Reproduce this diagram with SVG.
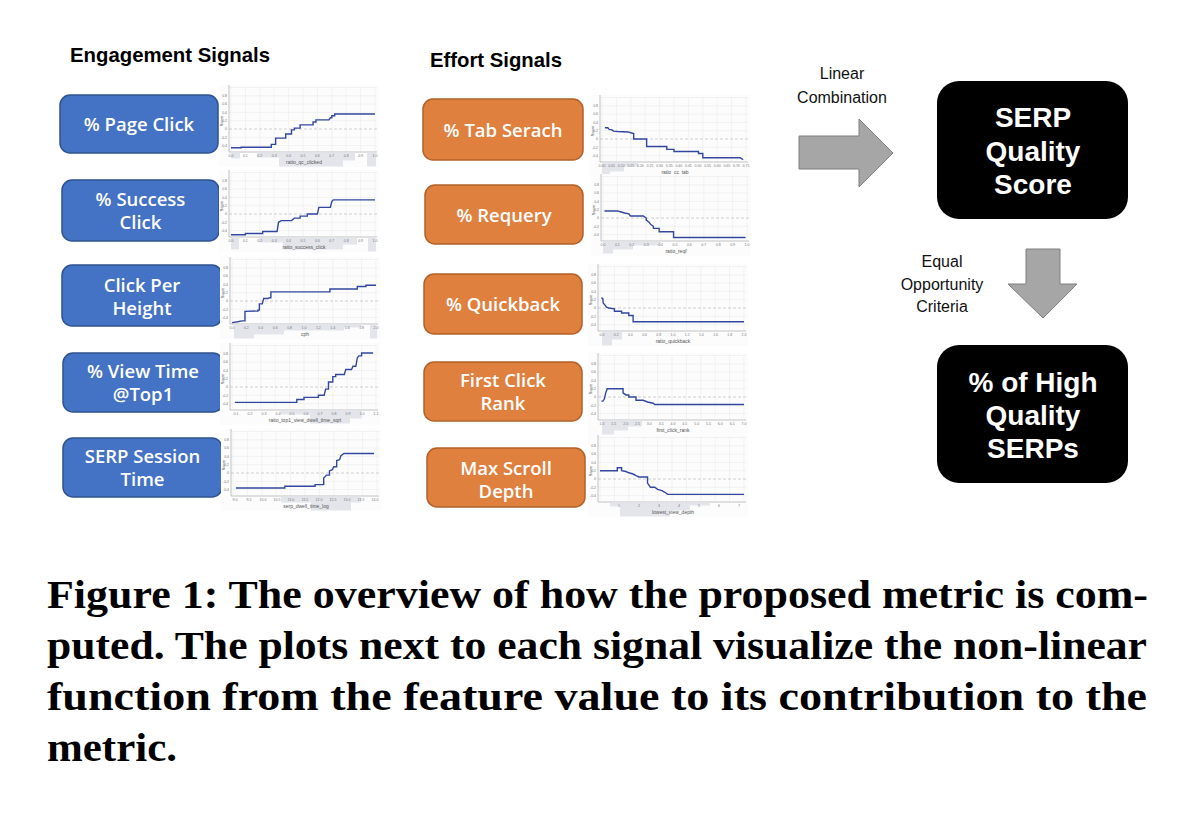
<svg xmlns="http://www.w3.org/2000/svg" xmlns:xlink="http://www.w3.org/1999/xlink" width="1200" height="813" viewBox="0 0 1200 813">
<style>
.hd{font-family:"Liberation Sans",Arial,sans-serif;font-weight:700;font-size:21px;fill:#000}
.bl{fill:#4472C4;stroke:#2F528F;stroke-width:1.5}
.or{fill:#E0803F;stroke:#B0612A;stroke-width:1.5}
.bt{font-family:"Open Sans","Liberation Sans",sans-serif;font-weight:600;font-size:18.5px;fill:#fff;text-anchor:middle}
.bk{fill:#000}
.kt{font-family:"Liberation Sans",Arial,sans-serif;font-weight:700;font-size:28px;fill:#fff;text-anchor:middle}
.lb{font-family:"Liberation Sans",Arial,sans-serif;font-size:16px;fill:#111;text-anchor:middle}
.ar{fill:#A6A6A6;stroke:#7F7F7F;stroke-width:1}
.cap{font-family:"Liberation Serif","Times New Roman",serif;font-weight:700;font-size:39px;fill:#000}
.grid{stroke:#E9E9E9;stroke-width:0.5}
.axis{stroke:#9A9A9A;stroke-width:0.6;fill:none}
.zero{stroke:#C4C4C4;stroke-width:0.8;stroke-dasharray:3 2}
.curve{fill:none;stroke:#3347A0;stroke-width:1.4}
.hist{fill:#E3E5EB}
.yt,.xt{font-family:"Liberation Sans",sans-serif;font-size:3.5px;fill:#777}
.yt{text-anchor:end}
.xt{text-anchor:middle}
.xn{font-family:"Liberation Sans",sans-serif;font-size:5px;fill:#555;text-anchor:middle}
.sc{font-family:"Liberation Sans",sans-serif;font-size:4px;fill:#555;text-anchor:middle}
</style>
<defs>
<g id="frame">
<rect x="0" y="0" width="160" height="82" fill="#FCFCFC"/>
<g class="grid">
<path d="M12,2V66M26.4,2V66M40.8,2V66M55.2,2V66M69.6,2V66M84,2V66M98.4,2V66M112.8,2V66M127.2,2V66M141.6,2V66M156,2V66"/>
<path d="M10,2.5H158M10,10.8H158M10,19.1H158M10,27.4H158M10,35.7H158M10,52.3H158M10,60.6H158"/>
</g>
<line class="zero" x1="10" y1="44" x2="158" y2="44"/>
<path class="axis" d="M10,0V67H158"/>
<text class="yt" x="8" y="12">0.8</text>
<text class="yt" x="8" y="20.3">0.6</text>
<text class="yt" x="8" y="28.6">0.4</text>
<text class="yt" x="8" y="36.9">0.2</text>
<text class="yt" x="8" y="45.2">0</text>
<text class="yt" x="8" y="53.5">-0.2</text>
<text class="yt" x="8" y="61.8">-0.4</text>
<text class="sc" transform="translate(3.5,36) rotate(-90)">Score</text>
</g>
</defs>
<rect width="1200" height="813" fill="#FFFFFF"/>

<text class="hd" x="70" y="62" textLength="200" lengthAdjust="spacingAndGlyphs">Engagement Signals</text>
<text class="hd" x="430" y="67" textLength="132" lengthAdjust="spacingAndGlyphs">Effort Signals</text>

<!-- Engagement signal nodes -->
<g id="page-click"><rect class="bl" x="60" y="95" width="158" height="58" rx="10"/><text class="bt" x="139" y="131">% Page Click</text></g>
<g id="success-click"><rect class="bl" x="62" y="180" width="157" height="61" rx="10"/><text class="bt" x="140.5" y="206">% Success</text><text class="bt" x="140.5" y="229">Click</text></g>
<g id="click-per-height"><rect class="bl" x="62" y="265" width="160" height="61" rx="10"/><text class="bt" x="142" y="292">Click Per</text><text class="bt" x="142" y="315">Height</text></g>
<g id="view-time-top1"><rect class="bl" x="63" y="353" width="160" height="59" rx="10"/><text class="bt" x="143" y="378">% View Time</text><text class="bt" x="143" y="401">@Top1</text></g>
<g id="serp-session-time"><rect class="bl" x="63" y="438" width="159" height="59" rx="10"/><text class="bt" x="142.5" y="463">SERP Session</text><text class="bt" x="142.5" y="486">Time</text></g>

<!-- Effort signal nodes -->
<g id="tab-search"><rect class="or" x="423" y="99" width="160" height="61" rx="10"/><text class="bt" x="503" y="137">% Tab Serach</text></g>
<g id="requery"><rect class="or" x="425" y="185" width="158" height="59" rx="10"/><text class="bt" x="504" y="222">% Requery</text></g>
<g id="quickback"><rect class="or" x="424" y="274" width="158" height="60" rx="10"/><text class="bt" x="503" y="311">% Quickback</text></g>
<g id="first-click-rank"><rect class="or" x="424" y="362" width="158" height="59" rx="10"/><text class="bt" x="503" y="387">First Click</text><text class="bt" x="503" y="410">Rank</text></g>
<g id="max-scroll-depth"><rect class="or" x="427" y="448" width="158" height="59" rx="10"/><text class="bt" x="506" y="475">Max Scroll</text><text class="bt" x="506" y="498">Depth</text></g>

<!-- Plots -->
<g id="plot-page-click" transform="translate(219,85)">
<use href="#frame"/>
<rect class="hist" x="12" y="67.5" width="9" height="6"/><rect class="hist" x="38" y="67.5" width="22" height="5"/><rect class="hist" x="60" y="67.5" width="64" height="14"/><rect class="hist" x="124" y="67.5" width="12" height="8"/><rect class="hist" x="148" y="67.5" width="9" height="14"/>
<text class="xt" y="71.5"><tspan x="12">0.0</tspan><tspan x="26.4">0.1</tspan><tspan x="40.8">0.2</tspan><tspan x="55.2">0.3</tspan><tspan x="69.6">0.4</tspan><tspan x="84">0.5</tspan><tspan x="98.4">0.6</tspan><tspan x="112.8">0.7</tspan><tspan x="127.2">0.8</tspan><tspan x="141.6">0.9</tspan><tspan x="156">1.0</tspan></text>
<text class="xn" x="85" y="78.5">ratio_qc_clicked</text>
<polyline class="curve" vector-effect="non-scaling-stroke" transform="translate(12,44) scale(144,-41.5)" points="0,-0.45 0.07,-0.45 0.07,-0.44 0.28,-0.44 0.28,-0.37 0.31,-0.37 0.31,-0.22 0.38,-0.22 0.38,-0.12 0.42,-0.12 0.42,-0.02 0.44,-0.02 0.44,0.02 0.48,0.02 0.48,0.1 0.57,0.1 0.57,0.17 0.59,0.17 0.59,0.22 0.68,0.22 0.69,0.27 0.7,0.27 0.7,0.32 0.72,0.32 0.72,0.36 1,0.36"/>
</g>
<g id="plot-success-click" transform="translate(219,170)">
<use href="#frame"/>
<rect class="hist" x="12" y="67.5" width="8" height="12"/><rect class="hist" x="40" y="67.5" width="24" height="5"/><rect class="hist" x="64" y="67.5" width="60" height="12"/><rect class="hist" x="124" y="67.5" width="14" height="7"/><rect class="hist" x="149" y="67.5" width="8" height="14"/>
<text class="xt" y="71.5"><tspan x="12">0.0</tspan><tspan x="26.4">0.1</tspan><tspan x="40.8">0.2</tspan><tspan x="55.2">0.3</tspan><tspan x="69.6">0.4</tspan><tspan x="84">0.5</tspan><tspan x="98.4">0.6</tspan><tspan x="112.8">0.7</tspan><tspan x="127.2">0.8</tspan><tspan x="141.6">0.9</tspan><tspan x="156">1.0</tspan></text>
<text class="xn" x="85" y="78.5">ratio_success_click</text>
<polyline class="curve" vector-effect="non-scaling-stroke" transform="translate(12,44) scale(144,-41.5)" points="0,-0.5 0.1,-0.5 0.1,-0.47 0.22,-0.47 0.22,-0.42 0.32,-0.42 0.33,-0.2 0.35,-0.16 0.42,-0.16 0.44,-0.1 0.48,-0.1 0.48,-0.05 0.53,-0.05 0.53,0 0.6,0 0.61,0.16 0.69,0.16 0.7,0.3 0.71,0.34 1,0.34"/>
</g>
<g id="plot-click-per-height" transform="translate(220,257)">
<use href="#frame"/>
<rect class="hist" x="14" y="67.5" width="20" height="14"/><rect class="hist" x="34" y="67.5" width="30" height="10"/><rect class="hist" x="64" y="67.5" width="60" height="6"/><rect class="hist" x="124" y="67.5" width="18" height="3"/><rect class="hist" x="150" y="67.5" width="7" height="14"/>
<text class="xt" y="71.5"><tspan x="12">0.0</tspan><tspan x="26.4">0.2</tspan><tspan x="40.8">0.4</tspan><tspan x="55.2">0.6</tspan><tspan x="69.6">0.8</tspan><tspan x="84">1.0</tspan><tspan x="98.4">1.2</tspan><tspan x="112.8">1.4</tspan><tspan x="127.2">1.6</tspan><tspan x="141.6">1.8</tspan><tspan x="156">2.0</tspan></text>
<text class="xn" x="85" y="78.5">cph</text>
<polyline class="curve" vector-effect="non-scaling-stroke" transform="translate(12,44) scale(144,-41.5)" points="0,-0.52 0.04,-0.5 0.07,-0.48 0.09,-0.48 0.09,-0.25 0.18,-0.24 0.18,-0.22 0.19,-0.22 0.19,-0.07 0.21,-0.07 0.22,0.06 0.25,0.06 0.26,0.08 0.27,0.08 0.27,0.22 0.68,0.22 0.68,0.29 0.87,0.29 0.87,0.35 0.93,0.35 0.93,0.38 1,0.38"/>
</g>
<g id="plot-view-time" transform="translate(220,343)">
<use href="#frame"/>
<rect class="hist" x="60" y="67.5" width="30" height="4"/><rect class="hist" x="90" y="67.5" width="40" height="13"/><rect class="hist" x="130" y="67.5" width="12" height="8"/>
<text class="xt" y="71.5"><tspan x="16">0.1</tspan><tspan x="30">0.2</tspan><tspan x="44">0.3</tspan><tspan x="58">0.4</tspan><tspan x="72">0.5</tspan><tspan x="86">0.6</tspan><tspan x="100">0.7</tspan><tspan x="114">0.8</tspan><tspan x="128">0.9</tspan><tspan x="142">1.0</tspan><tspan x="156">1.1</tspan></text>
<text class="xn" x="85" y="78.5">ratio_top1_view_dwell_time_sqrt</text>
<polyline class="curve" vector-effect="non-scaling-stroke" transform="translate(12,44) scale(144,-41.5)" points="0.02,-0.37 0.45,-0.37 0.45,-0.3 0.5,-0.3 0.5,-0.25 0.6,-0.25 0.6,-0.2 0.64,-0.2 0.65,-0.05 0.67,-0.05 0.67,0.12 0.7,0.12 0.7,0.25 0.72,0.25 0.72,0.3 0.78,0.3 0.79,0.42 0.83,0.42 0.84,0.5 0.86,0.5 0.87,0.7 0.88,0.75 0.9,0.75 0.9,0.82 0.98,0.82"/>
</g>
<g id="plot-session-time" transform="translate(221,429)">
<use href="#frame"/>
<rect class="hist" x="60" y="67.5" width="30" height="6"/><rect class="hist" x="90" y="67.5" width="40" height="14"/><rect class="hist" x="130" y="67.5" width="10" height="6"/>
<text class="xt" y="71.5"><tspan x="14">9.0</tspan><tspan x="28">9.5</tspan><tspan x="42">10.0</tspan><tspan x="56">10.5</tspan><tspan x="70">11.0</tspan><tspan x="84">11.5</tspan><tspan x="98">12.0</tspan><tspan x="112">12.5</tspan><tspan x="126">13.0</tspan><tspan x="140">13.5</tspan><tspan x="154">14.0</tspan></text>
<text class="xn" x="85" y="78.5">serp_dwell_time_log</text>
<polyline class="curve" vector-effect="non-scaling-stroke" transform="translate(12,44) scale(144,-41.5)" points="0.02,-0.36 0.36,-0.36 0.36,-0.32 0.57,-0.32 0.57,-0.28 0.63,-0.28 0.63,-0.12 0.65,-0.05 0.67,-0.05 0.67,0.05 0.69,0.08 0.7,0.15 0.72,0.15 0.72,0.3 0.74,0.32 0.75,0.42 0.77,0.47 0.98,0.47"/>
</g>

<g id="plot-tab-search" transform="translate(590,95)">
<use href="#frame"/>
<rect class="hist" x="12" y="67.5" width="8" height="14"/><rect class="hist" x="20" y="67.5" width="14" height="9"/><rect class="hist" x="34" y="67.5" width="14" height="4"/>
<text class="xt" y="71.5"><tspan x="12">0.00</tspan><tspan x="21.6">0.05</tspan><tspan x="31.2">0.10</tspan><tspan x="40.8">0.15</tspan><tspan x="50.4">0.20</tspan><tspan x="60">0.25</tspan><tspan x="69.6">0.30</tspan><tspan x="79.2">0.35</tspan><tspan x="88.8">0.40</tspan><tspan x="98.4">0.45</tspan><tspan x="108">0.50</tspan><tspan x="117.6">0.55</tspan><tspan x="127.2">0.60</tspan><tspan x="136.8">0.65</tspan><tspan x="146.4">0.70</tspan><tspan x="156">0.75</tspan></text>
<text class="xn" x="85" y="78.5">ratio_cc_tab</text>
<polyline class="curve" vector-effect="non-scaling-stroke" transform="translate(12,44) scale(144,-41.5)" points="0.02,0.27 0.04,0.27 0.05,0.23 0.07,0.22 0.08,0.19 0.11,0.18 0.18,0.17 0.2,0.15 0.22,0.13 0.22,0 0.31,0 0.31,-0.18 0.45,-0.18 0.45,-0.25 0.5,-0.25 0.5,-0.3 0.67,-0.3 0.67,-0.35 0.7,-0.35 0.7,-0.45 0.96,-0.45 0.98,-0.5"/>
</g>
<g id="plot-requery" transform="translate(591,174)">
<use href="#frame"/>
<rect class="hist" x="12" y="67.5" width="10" height="12"/><rect class="hist" x="22" y="67.5" width="20" height="8"/><rect class="hist" x="42" y="67.5" width="28" height="4"/>
<text class="xt" y="71.5"><tspan x="12">0.0</tspan><tspan x="26.4">0.1</tspan><tspan x="40.8">0.2</tspan><tspan x="55.2">0.3</tspan><tspan x="69.6">0.4</tspan><tspan x="84">0.5</tspan><tspan x="98.4">0.6</tspan><tspan x="112.8">0.7</tspan><tspan x="127.2">0.8</tspan><tspan x="141.6">0.9</tspan><tspan x="156">1.0</tspan></text>
<text class="xn" x="85" y="78.5">ratio_reqf</text>
<polyline class="curve" vector-effect="non-scaling-stroke" transform="translate(12,44) scale(144,-41.5)" points="0.01,0.17 0.1,0.17 0.12,0.15 0.15,0.12 0.18,0.1 0.19,0.05 0.28,0.05 0.3,0 0.3,-0.05 0.32,-0.1 0.33,-0.15 0.35,-0.2 0.35,-0.25 0.39,-0.25 0.39,-0.33 0.49,-0.33 0.49,-0.47 0.99,-0.47"/>
</g>
<g id="plot-quickback" transform="translate(588,264)">
<use href="#frame"/>
<rect class="hist" x="14" y="67.5" width="10" height="14"/><rect class="hist" x="24" y="67.5" width="10" height="8"/>
<text class="xt" y="71.5"><tspan x="14">0.0</tspan><tspan x="28.2">0.2</tspan><tspan x="42.4">0.4</tspan><tspan x="56.6">0.6</tspan><tspan x="70.8">0.8</tspan><tspan x="85">1.0</tspan><tspan x="99.2">1.2</tspan><tspan x="113.4">1.4</tspan><tspan x="127.6">1.6</tspan><tspan x="141.8">1.8</tspan><tspan x="156">2.0</tspan></text>
<text class="xn" x="85" y="78.5">ratio_quickback</text>
<polyline class="curve" vector-effect="non-scaling-stroke" transform="translate(12,44) scale(144,-41.5)" points="0.01,0.25 0.02,0.22 0.022,0.12 0.035,0.07 0.045,0.02 0.06,0 0.1,-0.02 0.1,-0.08 0.15,-0.08 0.15,-0.12 0.2,-0.12 0.2,-0.18 0.23,-0.18 0.23,-0.33 1,-0.33"/>
</g>
<g id="plot-first-click-rank" transform="translate(588,353)">
<use href="#frame"/>
<rect class="hist" x="14" y="67.5" width="12" height="14"/><rect class="hist" x="26" y="67.5" width="14" height="10"/><rect class="hist" x="40" y="67.5" width="14" height="6"/>
<text class="xt" y="71.5"><tspan x="14">1.0</tspan><tspan x="25.8">1.5</tspan><tspan x="37.7">2.0</tspan><tspan x="49.5">2.5</tspan><tspan x="61.3">3.0</tspan><tspan x="73.2">3.5</tspan><tspan x="85">4.0</tspan><tspan x="96.8">4.5</tspan><tspan x="108.7">5.0</tspan><tspan x="120.5">5.5</tspan><tspan x="132.3">6.0</tspan><tspan x="144.2">6.5</tspan><tspan x="156">7.0</tspan></text>
<text class="xn" x="85" y="78.5">first_click_rank</text>
<polyline class="curve" vector-effect="non-scaling-stroke" transform="translate(12,44) scale(144,-41.5)" points="0.01,-0.1 0.02,-0.1 0.03,-0.05 0.04,0.1 0.05,0.2 0.16,0.2 0.16,0.1 0.18,0.05 0.2,0.05 0.2,0 0.25,0 0.25,-0.08 0.3,-0.08 0.33,-0.12 0.37,-0.15 0.38,-0.18 1,-0.18"/>
</g>
<g id="plot-max-scroll-depth" transform="translate(588,435)">
<use href="#frame"/>
<rect class="hist" x="22" y="67.5" width="10" height="4"/><rect class="hist" x="32" y="67.5" width="50" height="14"/><rect class="hist" x="82" y="67.5" width="20" height="8"/><rect class="hist" x="102" y="67.5" width="20" height="3"/>
<text class="xt" y="71.5"><tspan x="31">1</tspan><tspan x="51">2</tspan><tspan x="71">3</tspan><tspan x="91">4</tspan><tspan x="111">5</tspan><tspan x="131">6</tspan><tspan x="151">7</tspan></text>
<text class="xn" x="85" y="78.5">lowest_view_depth</text>
<polyline class="curve" vector-effect="non-scaling-stroke" transform="translate(12,44) scale(144,-41.5)" points="0,0.2 0.12,0.2 0.12,0.27 0.15,0.27 0.15,0.2 0.18,0.18 0.2,0.15 0.23,0.12 0.25,0.08 0.27,0.05 0.33,0.05 0.33,-0.1 0.34,-0.15 0.35,-0.2 0.38,-0.2 0.4,-0.25 0.43,-0.28 0.45,-0.32 0.47,-0.37 1,-0.37"/>
</g>

<!-- Output nodes -->
<g id="serp-quality-score"><rect class="bk" x="937" y="81" width="191" height="138" rx="22"/><text class="kt" x="1033" y="127">SERP</text><text class="kt" x="1033" y="161">Quality</text><text class="kt" x="1033" y="194">Score</text></g>
<g id="high-quality-serps"><rect class="bk" x="937" y="345" width="191" height="138" rx="22"/><text class="kt" x="1033" y="392">% of High</text><text class="kt" x="1033" y="425">Quality</text><text class="kt" x="1033" y="458">SERPs</text></g>

<!-- Connectors -->
<g id="connectors">
<polygon class="ar" points="799,136 859,136 859,119 893,153 859,187 859,169 799,169"/>
<text class="lb" x="842" y="79">Linear</text>
<text class="lb" x="842" y="103">Combination</text>
<polygon class="ar" points="1026,249 1060,249 1060,284 1077,284 1043,318 1008,284 1026,284"/>
<text class="lb" x="942" y="267">Equal</text>
<text class="lb" x="942" y="290">Opportunity</text>
<text class="lb" x="942" y="312">Criteria</text>
</g>

<!-- Caption -->
<g id="caption">
<text class="cap" x="47" y="608" textLength="1101" lengthAdjust="spacingAndGlyphs">Figure 1: The overview of how the proposed metric is com-</text>
<text class="cap" x="47" y="659" textLength="1100" lengthAdjust="spacingAndGlyphs">puted. The plots next to each signal visualize the non-linear</text>
<text class="cap" x="47" y="710" textLength="1100" lengthAdjust="spacingAndGlyphs">function from the feature value to its contribution to the</text>
<text class="cap" x="47" y="761" textLength="130" lengthAdjust="spacingAndGlyphs">metric.</text>
</g>
</svg>
